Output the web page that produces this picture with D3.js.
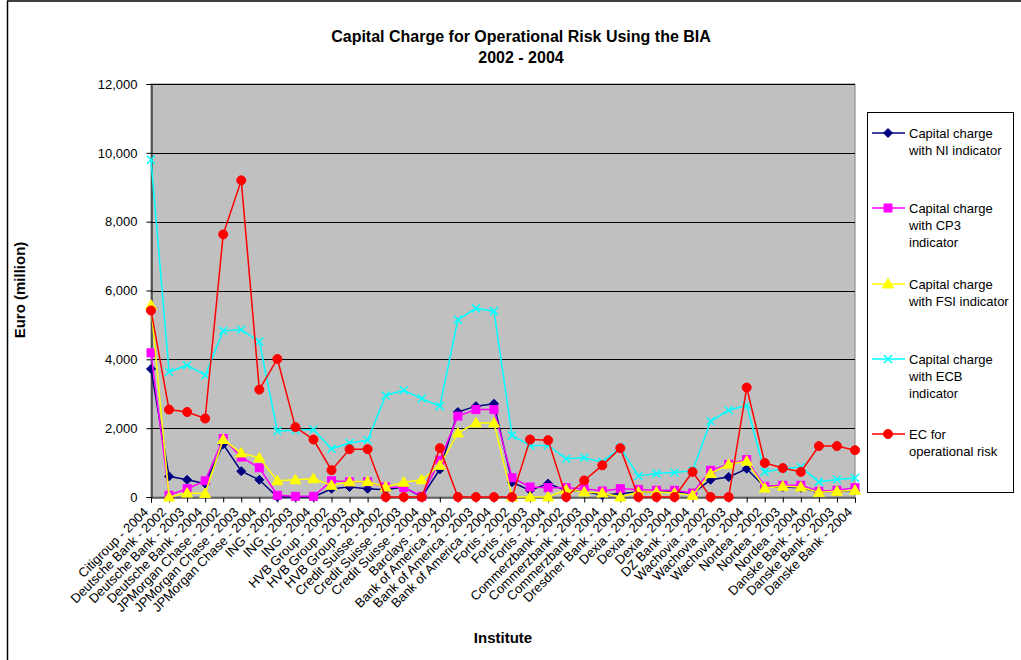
<!DOCTYPE html>
<html><head><meta charset="utf-8">
<script src="https://cdn.jsdelivr.net/npm/d3@7"></script>
<style>
html,body{margin:0;padding:0;background:#fff;}
svg{display:block;font-family:"Liberation Sans",Arial,sans-serif;}
</style></head>
<body>
<svg id="chart" width="1021" height="660"></svg>
<script>
const categories = [
  "Citigroup - 2004","Deutsche Bank - 2002","Deutsche Bank - 2003","Deutsche Bank - 2004",
  "JPMorgan Chase - 2002","JPMorgan Chase - 2003","JPMorgan Chase - 2004",
  "ING - 2002","ING - 2003","ING - 2004",
  "HVB Group - 2002","HVB Group - 2003","HVB Group - 2004",
  "Credit Suisse - 2002","Credit Suisse - 2003","Credit Suisse - 2004",
  "Barclays - 2004",
  "Bank of America - 2002","Bank of America - 2003","Bank of America - 2004",
  "Fortis - 2002","Fortis - 2003","Fortis - 2004",
  "Commerzbank - 2002","Commerzbank - 2003","Commerzbank - 2004",
  "Dresdner Bank - 2004",
  "Dexia - 2002","Dexia - 2003","Dexia - 2004",
  "DZ Bank - 2004",
  "Wachovia - 2002","Wachovia - 2003","Wachovia - 2004",
  "Nordea - 2002","Nordea - 2003","Nordea - 2004",
  "Danske Bank - 2002","Danske Bank - 2003","Danske Bank - 2004"
];
const niValues  = [3720,600,500,390,1530,750,500,0,0,0,240,290,240,210,290,0,800,2470,2640,2710,430,190,390,190,170,50,100,145,145,145,100,500,580,820,290,290,270,145,170,190];
const cp3Values = [4190,50,240,470,1700,1160,850,50,20,20,470,440,440,290,280,20,1070,2350,2540,2540,560,290,270,270,240,175,240,220,195,195,115,775,950,1085,310,340,340,165,195,270];
const fsiValues = [5570,0,115,100,1670,1280,1135,470,500,530,340,440,450,290,430,500,920,1860,2150,2150,0,0,0,210,145,115,0,145,145,115,50,680,950,1040,260,310,290,135,165,195];
const ecbValues = [9800,3630,3830,3540,4830,4860,4520,1920,1940,1960,1400,1570,1650,2950,3100,2860,2640,5150,5480,5400,1790,1500,1500,1110,1140,1020,1430,610,680,710,760,2200,2520,2660,730,820,870,440,510,550];
const ecValues  = [5420,2540,2470,2280,7630,9200,3120,4010,2030,1670,780,1390,1390,0,0,0,1420,0,0,0,0,1670,1650,0,480,920,1420,0,0,0,730,0,0,3180,990,840,730,1480,1480,1360];
const yTicks = [0,2000,4000,6000,8000,10000,12000];
const seriesNames = [
  ["Capital charge","with NI indicator"],
  ["Capital charge","with CP3","indicator"],
  ["Capital charge","with FSI indicator"],
  ["Capital charge","with ECB","indicator"],
  ["EC for","operational risk"]
];
const seriesColors = ["#000080","#FF00FF","#FFFF00","#00FFFF","#FF0000"];
const seriesMarkers = ["diamond","square","triangle","cross","circle"];
const titleLines = ["Capital Charge for Operational Risk Using the BIA","2002 - 2004"];
const xTitle = "Institute";
const yTitle = "Euro (million)";

const allSeries = [niValues,cp3Values,fsiValues,ecbValues,ecValues];
const svg = d3.select("#chart");
const L=151,R=855,T=84,B=497;

// outer frame
svg.append("line").attr("x1",7.5).attr("x2",7.5).attr("y1",1).attr("y2",660).attr("stroke","#000").attr("stroke-width",1.5);
svg.append("line").attr("x1",7).attr("x2",1021).attr("y1",1).attr("y2",1).attr("stroke","#000").attr("stroke-width",1.5);

const x = d3.scalePoint().domain(categories).range([L,R]).padding(0);
const y = d3.scaleLinear().domain([0,12000]).range([B,T]);

svg.append("rect").attr("x",L).attr("y",T).attr("width",R-L).attr("height",B-T)
  .attr("fill","#C0C0C0").attr("stroke","#808080").attr("stroke-width",1);

// grid
svg.append("g").selectAll("line").data(yTicks.filter(d=>d>0)).join("line")
  .attr("x1",L).attr("x2",R).attr("y1",d=>Math.round(y(d))+0.5).attr("y2",d=>Math.round(y(d))+0.5)
  .attr("stroke","#000").attr("stroke-width",1);

// y axis
const yAxis = d3.axisLeft(y).tickValues(yTicks).tickSize(5).tickPadding(9).tickFormat(d3.format(","));
const gy = svg.append("g").attr("transform",`translate(${L+0.5},0)`).call(yAxis);
gy.select(".domain").attr("stroke","#000");
gy.selectAll(".tick line").attr("stroke","#000");
gy.selectAll(".tick text").attr("font-size",13).attr("fill","#000").style("font-family","Liberation Sans, Arial, sans-serif");

// x axis
const xAxis = d3.axisBottom(x).tickSize(5).tickFormat("");
const gx = svg.append("g").attr("transform",`translate(0,${B+0.5})`).call(xAxis);
gx.select(".domain").attr("stroke","#000");
gx.selectAll(".tick line").attr("stroke","#000");
svg.append("g").selectAll("text").data(categories).join("text")
  .attr("transform",d=>`translate(${x(d)-2},${B+16}) rotate(-45)`)
  .attr("text-anchor","end").attr("font-size",13).attr("fill","#000").text(d=>d);

function drawMarker(g,type,cx,cy,color){
  if(type==="diamond"){
    g.append("path").attr("d",`M${cx},${cy-4.5}L${cx+4.5},${cy}L${cx},${cy+4.5}L${cx-4.5},${cy}Z`).attr("fill",color).attr("stroke",color);
  } else if(type==="square"){
    g.append("rect").attr("x",cx-4).attr("y",cy-4).attr("width",8).attr("height",8).attr("fill",color).attr("stroke",color);
  } else if(type==="triangle"){
    g.append("path").attr("d",`M${cx},${cy-5.5}L${cx+5.5},${cy+4}L${cx-5.5},${cy+4}Z`).attr("fill",color).attr("stroke",color);
  } else if(type==="cross"){
    g.append("path").attr("d",`M${cx-4},${cy-4}L${cx+4},${cy+4}M${cx-4},${cy+4}L${cx+4},${cy-4}`).attr("stroke",color).attr("stroke-width",1.5).attr("fill","none");
  } else {
    g.append("circle").attr("cx",cx).attr("cy",cy).attr("r",4.5).attr("fill",color).attr("stroke",color);
  }
}

const line = d3.line().x((d,i)=>x(categories[i])).y(d=>y(d));
allSeries.forEach((vals,si)=>{
  const g = svg.append("g");
  g.append("path").datum(vals).attr("d",line).attr("fill","none").attr("stroke",seriesColors[si]).attr("stroke-width",1.5);
  vals.forEach((v,i)=>drawMarker(g,seriesMarkers[si],x(categories[i]),y(v),seriesColors[si]));
});

// titles
svg.append("text").attr("x",521).attr("y",42).attr("text-anchor","middle").attr("font-size",16).attr("font-weight","bold").text(titleLines[0]);
svg.append("text").attr("x",521).attr("y",63).attr("text-anchor","middle").attr("font-size",16).attr("font-weight","bold").text(titleLines[1]);
svg.append("text").attr("x",503).attr("y",643).attr("text-anchor","middle").attr("font-size",15).attr("font-weight","bold").text(xTitle);
svg.append("text").attr("transform","translate(25,290) rotate(-90)").attr("text-anchor","middle").attr("font-size",15).attr("font-weight","bold").text(yTitle);

// legend
svg.append("rect").attr("x",867.5).attr("y",112.5).attr("width",146).attr("height",380).attr("fill","#fff").attr("stroke","#000").attr("stroke-width",1);
const legendY = [133,208,284,359,434];
seriesNames.forEach((lines,si)=>{
  const g = svg.append("g");
  const ly = legendY[si];
  g.append("line").attr("x1",872).attr("x2",905).attr("y1",ly).attr("y2",ly).attr("stroke",seriesColors[si]).attr("stroke-width",1.5);
  drawMarker(g,seriesMarkers[si],888,ly,seriesColors[si]);
  lines.forEach((t,li)=>{
    g.append("text").attr("x",909).attr("y",ly+li*17).attr("dy","0.35em").attr("font-size",13).attr("fill","#000").text(t);
  });
});
</script>
</body></html>
